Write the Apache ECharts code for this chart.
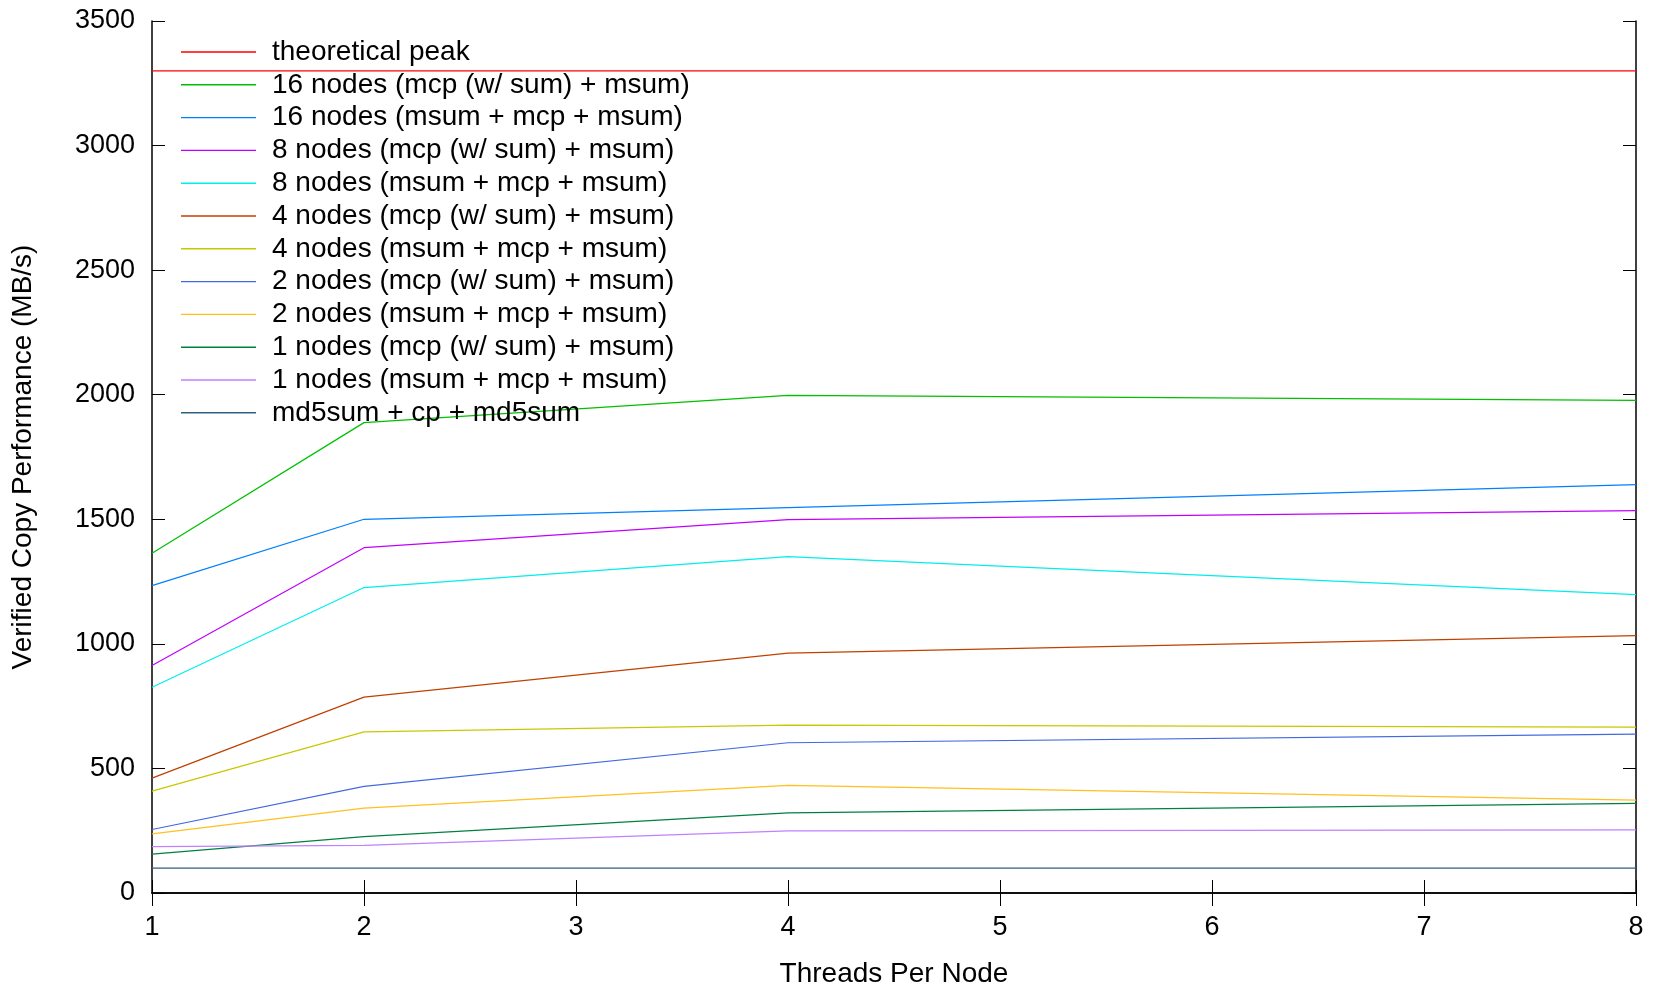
<!DOCTYPE html>
<html>
<head>
<meta charset="utf-8">
<title>Verified Copy Performance</title>
<script src="https://cdn.jsdelivr.net/npm/echarts@6/dist/echarts.min.js"></script>
<style>
  html, body { margin: 0; padding: 0; background: #fff; }
  #chart { width: 1654px; height: 985px; }
</style>
</head>
<body>
<div id="chart"></div>
<script>
// Threads per node on the x axis
const threads = [1, 2, 4, 8];

// Copy throughput (MB/s) for each configuration
const peak            = [3300, 3300];
const n16Mcp          = [1364, 1888, 1997, 1977];
const n16Msum         = [1234, 1500, 1547, 1639];
const n8Mcp           = [913, 1386, 1499, 1535];
const n8Msum          = [826, 1226, 1350, 1198];
const n4Mcp           = [461, 786, 963, 1033];
const n4Msum          = [409, 647, 674, 666];
const n2Mcp           = [255, 428, 603, 638];
const n2Msum          = [237, 341, 432, 373];
const n1Mcp           = [156, 226, 322, 360];
const n1Msum          = [186, 191, 249, 253];
const md5cp           = [100, 100, 100, 100];

const seriesNames = [
  'theoretical peak',
  '16 nodes (mcp (w/ sum) + msum)',
  '16 nodes (msum + mcp + msum)',
  '8 nodes (mcp (w/ sum) + msum)',
  '8 nodes (msum + mcp + msum)',
  '4 nodes (mcp (w/ sum) + msum)',
  '4 nodes (msum + mcp + msum)',
  '2 nodes (mcp (w/ sum) + msum)',
  '2 nodes (msum + mcp + msum)',
  '1 nodes (mcp (w/ sum) + msum)',
  '1 nodes (msum + mcp + msum)',
  'md5sum + cp + md5sum'
];
const seriesColors = [
  '#ff0000', '#00c000', '#0080ff', '#c000ff', '#00eeee', '#c04000',
  '#c8c800', '#4169e1', '#ffc020', '#008040', '#c080ff', '#306080'
];
const peakX = [1, 8];
const seriesValues = [peak, n16Mcp, n16Msum, n8Mcp, n8Msum, n4Mcp, n4Msum,
                      n2Mcp, n2Msum, n1Mcp, n1Msum, md5cp];

const xTicks = [1, 2, 3, 4, 5, 6, 7, 8];
const yTicks = [0, 500, 1000, 1500, 2000, 2500, 3000, 3500];

const FONT = '"Liberation Sans", Arial, Helvetica, sans-serif';

const series = seriesValues.map((vals, i) => {
  const xs = i === 0 ? peakX : threads;
  return {
    name: seriesNames[i],
    type: 'line',
    data: vals.map((v, k) => [xs[k], v]),
    symbol: 'none',
    lineStyle: { color: seriesColors[i], width: 1.2 },
    itemStyle: { color: seriesColors[i] },
    emphasis: { disabled: true },
    animation: false,
    z: 3
  };
});

const tickCommon = { inside: true, length: 13, lineStyle: { color: '#000', width: 1 } };
const lineCommon = { show: true, lineStyle: { color: '#000', width: 1.5 } };

const chart = echarts.init(document.getElementById('chart'), null, { renderer: 'canvas' });
chart.setOption({
  backgroundColor: '#fff',
  animation: false,
  textStyle: { fontFamily: FONT, color: '#000' },
  grid: { left: 152, right: 18, top: 21, bottom: 92, outerBoundsMode: 'none', containLabel: false },
  legend: {
    orient: 'vertical',
    left: 176,
    top: 31,
    icon: 'rect',
    itemWidth: 75,
    itemHeight: 1.4,
    itemGap: 0.8,
    selectedMode: false,
    data: seriesNames,
    textStyle: {
      fontFamily: FONT, fontSize: 28, color: '#000',
      lineHeight: 32, padding: [0, 0, 0, 11]
    }
  },
  xAxis: [{
    type: 'value',
    min: xTicks[0],
    max: xTicks[xTicks.length - 1],
    interval: 1,
    name: 'Threads Per Node',
    nameLocation: 'middle',
    nameGap: 67,
    nameTextStyle: { fontFamily: FONT, fontSize: 28, color: '#000' },
    axisLine: lineCommon,
    axisTick: tickCommon,
    axisLabel: { fontFamily: FONT, fontSize: 27, color: '#000', margin: 21 },
    splitLine: { show: false }
  }, {
    type: 'value',
    position: 'top',
    min: xTicks[0],
    max: xTicks[xTicks.length - 1],
    interval: 1,
    axisLine: lineCommon,
    axisTick: tickCommon,
    axisLabel: { show: false },
    splitLine: { show: false }
  }],
  yAxis: [{
    type: 'value',
    min: yTicks[0],
    max: yTicks[yTicks.length - 1],
    interval: 500,
    name: 'Verified Copy Performance (MB/s)',
    nameLocation: 'middle',
    nameGap: 115,
    nameTextStyle: { fontFamily: FONT, fontSize: 28, color: '#000' },
    axisLine: lineCommon,
    axisTick: tickCommon,
    axisLabel: {
      fontFamily: FONT, fontSize: 27, color: '#000', margin: 17,
      formatter: (v) => String(v)
    },
    splitLine: { show: false }
  }, {
    type: 'value',
    position: 'right',
    min: yTicks[0],
    max: yTicks[yTicks.length - 1],
    interval: 500,
    axisLine: lineCommon,
    axisTick: tickCommon,
    axisLabel: { show: false },
    splitLine: { show: false }
  }],
  series: series
});
</script>
</body>
</html>
